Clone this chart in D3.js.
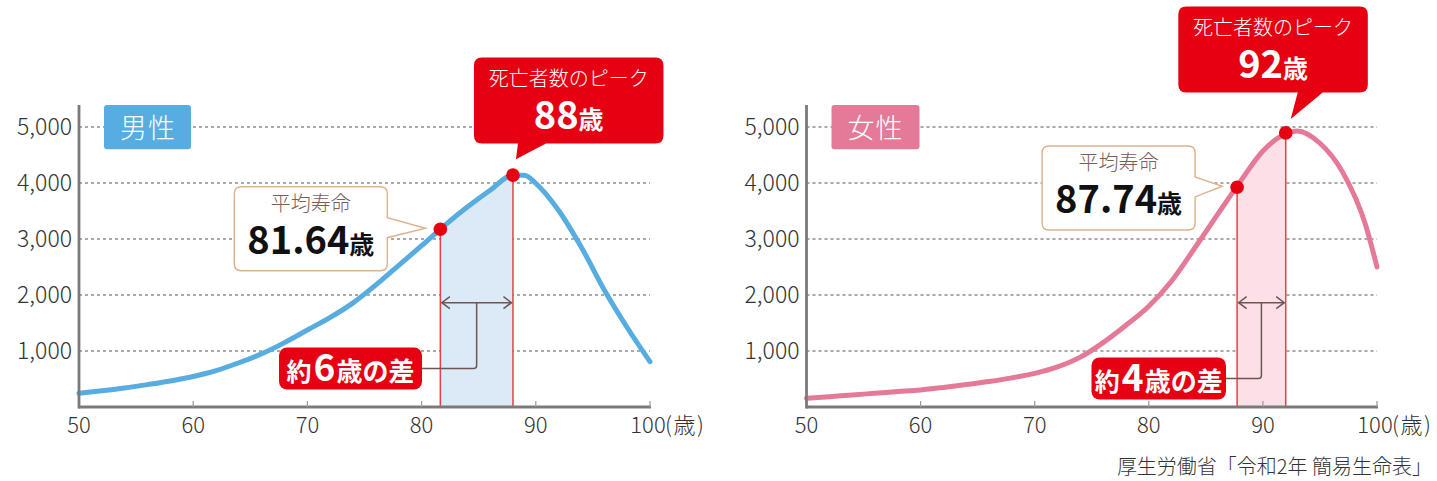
<!DOCTYPE html>
<html><head><meta charset="utf-8">
<script src="https://cdn.jsdelivr.net/npm/d3@7/dist/d3.min.js"></script>
<style>
html,body{margin:0;padding:0;background:#fff;}
svg{display:block;font-family:"Noto Sans CJK JP","Noto Sans",sans-serif;}
</style></head>
<body><svg id="chart" width="1437" height="481"></svg>
<script>
// ---- data ----
const maleAges   = [50,52,54,56,58,60,62,64,66,68,70,72,74,76,78,80,82,84,86,88,89,90,92,94,96,98,100];
const maleDeaths = [245,290,340,400,465,545,650,790,950,1150,1375,1600,1860,2180,2530,2880,3240,3570,3870,4140,4140,3995,3510,2850,2090,1420,810];
const femaleAges   = [50,52,54,56,58,60,62,64,66,68,70,72,74,76,78,80,82,84,86,88,90,92,93,95,97,99,100];
const femaleDeaths = [155,185,215,245,275,305,350,400,455,520,600,715,890,1150,1460,1800,2250,2830,3430,4020,4570,4880,4930,4710,4190,3250,2500];
const maleAvg = {age:81.64, value:3175};
const malePeak = {age:88, value:4140};
const femaleAvg = {age:87.74, value:3925};
const femalePeak = {age:92, value:4895};
const xTicks = [50,60,70,80,90,100];
const yTicks = [1000,2000,3000,4000,5000];
const labels = {male:"男性", female:"女性", avg:"平均寿命", peak:"死亡者数のピーク", unit:"歳", axisUnit:"(歳)",
  source:"厚生労働省「令和2年 簡易生命表」", diffPre:"約", diffPost:"歳の差"};
const maleDiff = "6", femaleDiff = "4";

// ---- layout ----
const svg = d3.select("#chart");
const RED = "#e60012";
const y = d3.scaleLinear().domain([0,5000]).range([407,127]);

const panels = [
  {ages:maleAges, vals:maleDeaths, avg:maleAvg, peak:malePeak, x0:79, x1:650, color:"#58ade0", fill:"#dce9f6",
   name:labels.male, diff:maleDiff,
   avgBox:{dx:-206, dy:-42.5}, peakBox:{dx:-39, dy:-117.7, tipDx:3, tipDy:-16, b1:2, b2:30},
   diffBox:{x:279, w:143, yTop:347.5}},
  {ages:femaleAges, vals:femaleDeaths, avg:femaleAvg, peak:femalePeak, x0:806.5, x1:1377, color:"#e57a98", fill:"#fbe1e7",
   name:labels.female, diff:femaleDiff,
   avgBox:{dx:-195, dy:-41.3}, peakBox:{dx:-107.4, dy:-126.3, tipDx:5, tipDy:-14, b1:7, b2:32},
   diffBox:{x:1091.5, w:134.5, yTop:357.5}}
];

function avgPath(x,yy,w,h,r,t1,t2,tipX,tipY){
  return `M${x+r},${yy} H${x+w-r} Q${x+w},${yy} ${x+w},${yy+r} V${t1} L${tipX},${tipY} L${x+w},${t2} V${yy+h-r} Q${x+w},${yy+h} ${x+w-r},${yy+h} H${x+r} Q${x},${yy+h} ${x},${yy+h-r} V${yy+r} Q${x},${yy} ${x+r},${yy} Z`;
}
function peakPath(x,yy,w,h,r,b1,b2,tipX,tipY){
  return `M${x+r},${yy} H${x+w-r} Q${x+w},${yy} ${x+w},${yy+r} V${yy+h-r} Q${x+w},${yy+h} ${x+w-r},${yy+h} H${b2} L${tipX},${tipY} L${b1},${yy+h} H${x+r} Q${x},${yy+h} ${x},${yy+h-r} V${yy+r} Q${x},${yy} ${x+r},${yy} Z`;
}

panels.forEach((p,i)=>{
  const x = d3.scaleLinear().domain([50,100]).range([p.x0,p.x1]);
  const g = svg.append("g");
  const data = p.ages.map((a,k)=>({a, v:p.vals[k]}));

  // grid
  g.selectAll(".grid").data(yTicks).join("line")
    .attr("x1",x(50)).attr("x2",x(100)).attr("y1",d=>y(d)).attr("y2",d=>y(d))
    .attr("stroke","#555").attr("stroke-width",1).attr("stroke-dasharray","3,3");

  // shaded area between avg and peak
  const clipId = "clip"+i;
  g.append("clipPath").attr("id",clipId).append("rect")
    .attr("x",x(p.avg.age)).attr("width",x(p.peak.age)-x(p.avg.age)).attr("y",0).attr("height",y(0));
  const area = d3.area().x(d=>x(d.a)).y0(y(0)).y1(d=>y(d.v)).curve(d3.curveMonotoneX);
  g.append("path").datum(data).attr("d",area).attr("fill",p.fill).attr("clip-path",`url(#${clipId})`);

  // curve
  const line = d3.line().x(d=>x(d.a)).y(d=>y(d.v)).curve(d3.curveMonotoneX);
  g.append("path").datum(data).attr("d",line).attr("fill","none").attr("stroke",p.color)
    .attr("stroke-width",5).attr("stroke-linecap","round").attr("stroke-linejoin","round");

  // vertical red lines
  g.selectAll(".vl").data([p.avg,p.peak]).join("line")
    .attr("x1",d=>x(d.age)).attr("x2",d=>x(d.age)).attr("y1",d=>y(d.value)).attr("y2",y(0))
    .attr("stroke","#e8404a").attr("stroke-width",1.5);

  // axes
  g.append("line").attr("x1",x(50)).attr("x2",x(50)).attr("y1",105).attr("y2",y(0)+1.5)
    .attr("stroke","#7a7a7a").attr("stroke-width",2.8);
  g.append("line").attr("x1",x(50)).attr("x2",x(100)+1).attr("y1",y(0)).attr("y2",y(0))
    .attr("stroke","#7a7a7a").attr("stroke-width",2.8);
  g.selectAll(".xt").data(xTicks.slice(1)).join("line")
    .attr("x1",d=>x(d)).attr("x2",d=>x(d)).attr("y1",y(0)).attr("y2",y(0)-6)
    .attr("stroke","#9a9a9a").attr("stroke-width",1.2);
  g.selectAll(".xl").data(xTicks).join("text")
    .attr("x",d=>x(d)-(d===100?2:0)).attr("y",433).attr("text-anchor","middle")
    .attr("font-size",22).attr("font-weight",300).attr("fill","#333").text(d=>d);
  g.append("text").attr("x",x(100)+15).attr("y",433).attr("font-size",22).attr("font-weight",300).attr("fill","#333")
    .attr("letter-spacing",1.5).text(labels.axisUnit);
  g.selectAll(".yl").data(yTicks).join("text")
    .attr("x",x(50)-7).attr("y",d=>y(d)+8).attr("text-anchor","end")
    .attr("font-size",23).attr("font-weight",300).attr("fill","#333").text(d=>d3.format(",")(d));

  // name badge
  const bx = x(50)+25;
  g.append("rect").attr("x",bx).attr("y",105).attr("width",p===panels[0]?87:88).attr("height",44.3)
    .attr("rx",3).attr("fill",p.color);
  g.append("text").attr("x",bx+44).attr("y",138).attr("text-anchor","middle")
    .attr("font-size",27).attr("font-weight",300).attr("fill","#fff").attr("letter-spacing",1).text(p.name);

  // diff arrow
  const ay = 302.7;
  const ax1 = x(p.avg.age)+1.5, ax2 = x(p.peak.age)-1.5, amid = (ax1+ax2)/2;
  const brown = "#6e5552";
  g.append("line").attr("x1",ax1).attr("x2",ax2).attr("y1",ay).attr("y2",ay).attr("stroke",brown).attr("stroke-width",1.5);
  g.append("path").attr("d",`M${ax1+8},${ay-6} L${ax1},${ay} L${ax1+8},${ay+6} M${ax2-8},${ay-6} L${ax2},${ay} L${ax2-8},${ay+6}`)
    .attr("fill","none").attr("stroke",brown).attr("stroke-width",1.5);
  const db = p.diffBox, dh = 42, cy = db.yTop + dh/2;
  g.append("path").attr("d",`M${db.x+db.w},${cy} H${amid-3} Q${amid},${cy} ${amid},${cy-3} V${ay}`)
    .attr("fill","none").attr("stroke",brown).attr("stroke-width",1.5);
  g.append("rect").attr("x",db.x).attr("y",db.yTop).attr("width",db.w).attr("height",dh).attr("rx",8).attr("fill",RED);
  const dt = g.append("text").attr("x",db.x+db.w/2).attr("y",db.yTop+33).attr("text-anchor","middle")
    .attr("fill","#fff").attr("font-weight",700);
  dt.append("tspan").attr("font-size",25).text(labels.diffPre);
  dt.append("tspan").attr("font-size",37).attr("dx",2).text(p.diff);
  dt.append("tspan").attr("font-size",26).attr("dx",1).text(labels.diffPost);

  // average callout
  const ax = x(p.avg.age), ayy = y(p.avg.value);
  const bw = 153, bh = 84, bxl = ax + p.avgBox.dx, byt = ayy + p.avgBox.dy;
  g.append("path").attr("d",avgPath(bxl,byt,bw,bh,7,byt+31,byt+51,ax-15,ayy-1))
    .attr("fill","#fff").attr("stroke","#dcb590").attr("stroke-width",1.5);
  g.append("text").attr("x",bxl+bw/2).attr("y",byt+24).attr("text-anchor","middle")
    .attr("font-size",20).attr("font-weight",300).attr("fill","#7b5e57").text(labels.avg);
  const at = g.append("text").attr("x",bxl+bw/2).attr("y",byt+67.5).attr("text-anchor","middle")
    .attr("fill","#111").attr("font-weight",700);
  at.append("tspan").attr("font-size",38).text(p.avg.age.toFixed(2));
  at.append("tspan").attr("font-size",25).text(labels.unit);

  // peak callout
  const px = x(p.peak.age), py = y(p.peak.value), pb = p.peakBox;
  const pw = 189.5, ph = 86, pxl = px + pb.dx, pyt = py + pb.dy;
  const tipX = px + pb.tipDx, tipY = py + pb.tipDy;
  g.append("path").attr("d",peakPath(pxl,pyt,pw,ph,8,tipX+pb.b1,tipX+pb.b2,tipX,tipY)).attr("fill",RED);
  g.append("text").attr("x",pxl+pw/2).attr("y",pyt+28.5).attr("text-anchor","middle")
    .attr("font-size",20).attr("font-weight",300).attr("fill","#fff").text(labels.peak);
  const pt = g.append("text").attr("x",pxl+pw/2).attr("y",pyt+71.5).attr("text-anchor","middle")
    .attr("fill","#fff").attr("font-weight",700);
  pt.append("tspan").attr("font-size",38).text(p.peak.age);
  pt.append("tspan").attr("font-size",25).text(labels.unit);

  // dots
  g.selectAll(".dot").data([p.avg,p.peak]).join("circle")
    .attr("cx",d=>x(d.age)).attr("cy",d=>y(d.value)).attr("r",6.8).attr("fill",RED);
});

svg.append("text").attr("x",1432).attr("y",474).attr("text-anchor","end")
  .attr("font-size",20).attr("font-weight",300).attr("fill","#333").text(labels.source);
</script></body></html>
